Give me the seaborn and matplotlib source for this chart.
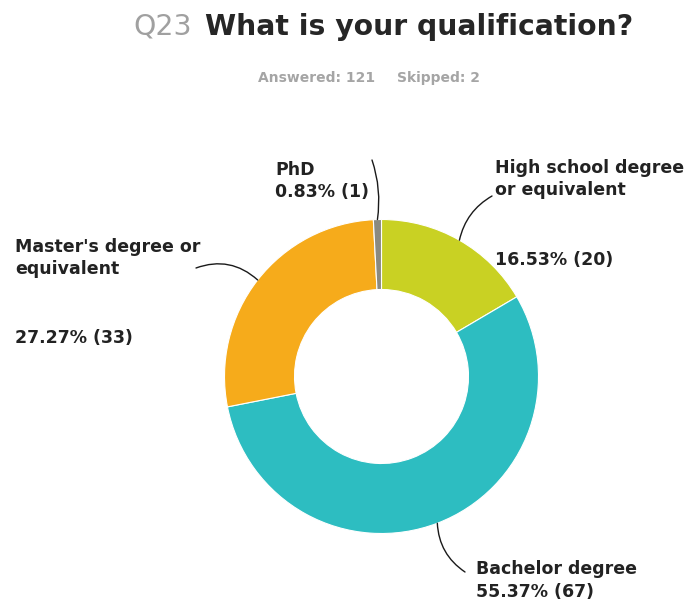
import numpy as np
import matplotlib
matplotlib.use("Agg")
import matplotlib.pyplot as plt
import seaborn as sns

# Survey responses, clockwise from 12 o'clock
categories = ["High school degree\nor equivalent", "Bachelor degree",
              "Master's degree or\nequivalent", "PhD"]
counts = [20, 67, 33, 1]
percent_labels = ["16.53% (20)", "55.37% (67)", "27.27% (33)", "0.83% (1)"]
answered = 121
skipped = 2

sns.set_theme(style="white")
plt.rcParams["font.family"] = ["DejaVu Sans"]

colors = ["#c9d123", "#2dbdc1", "#f6ab1b", "#8a8a80"]
text_color = "#222222"

W, H = 685, 601
fig = plt.figure(figsize=(W / 100, H / 100), dpi=100)
ax = fig.add_axes([0, 0, 1, 1])


def P(px, py):
    """Pixel position (origin top-left) to axes data coordinates."""
    return px, H - py


cx, cy = 381.5, 376.5
R_out, ring = 157, 70

ax.pie(counts, colors=colors, startangle=90, counterclock=False,
       radius=R_out, center=P(cx, cy),
       wedgeprops=dict(width=ring, edgecolor="white", linewidth=0.8))
ax.set_xlim(0, W)
ax.set_ylim(0, H)
ax.set_aspect("equal")
ax.axis("off")

# Mid-angle of each wedge (degrees, counter-clockwise from 3 o'clock)
total = sum(counts)
cum = np.cumsum([0] + counts)
mid_deg = 90 - 360 * (cum[:-1] + np.array(counts) / 2) / total

# Leader line endpoints and label placement (pixel coordinates)
leader_end = [(492, 196), (465, 572), (196, 268), (372, 160)]
leader_rad = [0.22, -0.25, -0.3, -0.12]
name_pos = [(495, 195), (476, 574), (15, 274), (275, 175)]
pct_pos = [(495, 265), (476, 597), (15, 343), (275, 197)]

fs = 12.5
for i in range(len(counts)):
    a = np.deg2rad(mid_deg[i])
    anchor = (cx + R_out * np.cos(a), cy - R_out * np.sin(a))
    ax.annotate("", xy=P(*anchor), xytext=P(*leader_end[i]),
                arrowprops=dict(arrowstyle="-", color="#1a1a1a", lw=1.0,
                                connectionstyle=f"arc3,rad={leader_rad[i]}",
                                shrinkA=0, shrinkB=0))
    ax.text(*P(*name_pos[i]), categories[i], fontsize=fs, fontweight="bold",
            color=text_color, ha="left", va="baseline", linespacing=1.3)
    ax.text(*P(*pct_pos[i]), percent_labels[i], fontsize=fs, fontweight="bold",
            color=text_color, ha="left", va="baseline")

# Title and response summary
ax.text(*P(133, 35), "Q23", fontsize=20.3, color="#a0a0a0",
        ha="left", va="baseline")
ax.text(*P(205, 35), "What is your qualification?", fontsize=20.3,
        fontweight="bold", color="#262626", ha="left", va="baseline")
ax.text(*P(258, 82), f"Answered: {answered}", fontsize=10, fontweight="bold",
        color="#a5a5a5", ha="left", va="baseline")
ax.text(*P(397, 82), f"Skipped: {skipped}", fontsize=10, fontweight="bold",
        color="#a5a5a5", ha="left", va="baseline")

fig.savefig("out.png", dpi=100, facecolor="white")
